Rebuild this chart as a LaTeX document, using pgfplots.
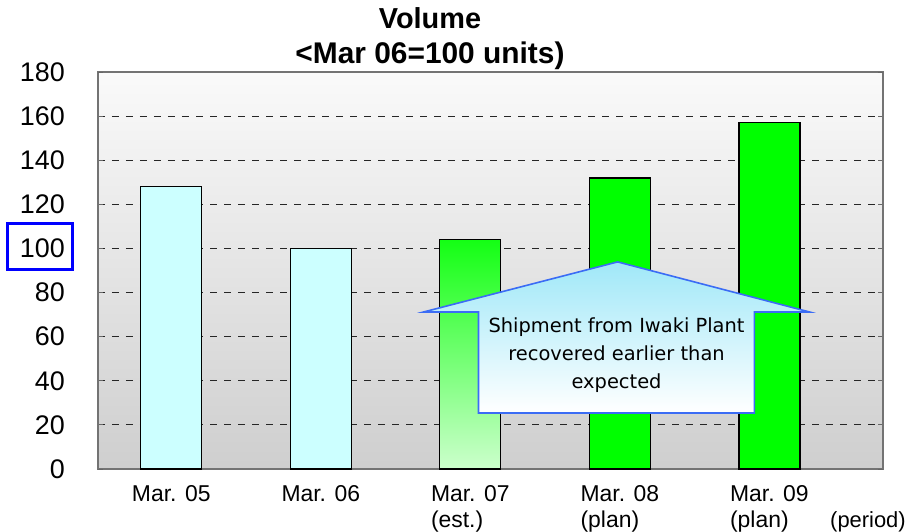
\documentclass[border=0pt]{standalone}
\usepackage{pgfplots}
\pgfplotsset{compat=1.18}
\usepackage{fontspec}
\setmainfont{Liberation Sans}
\newfontfamily\calloutfont{DejaVu Sans}
\definecolor{lcyan}{RGB}{204,255,255}
\definecolor{vgreen}{RGB}{0,255,0}
\definecolor{gtop}{RGB}{20,255,20}
\definecolor{gbot}{RGB}{204,255,204}
\definecolor{cline}{RGB}{59,108,245}
\definecolor{ctop}{RGB}{160,232,248}
\begin{document}
\begin{tikzpicture}
\begin{axis}[
  at={(0,0)}, anchor=south west,
  scale only axis, width=785bp, height=397bp,
  xmin=-0.49, xmax=4.76, ymin=0, ymax=180,
  axis line style={draw=black!55, line width=1.2bp},
  axis background/.style={top color=black!2, bottom color=black!19},
  ytick={20,40,...,160},
  extra y ticks={0,180}, extra y tick style={grid=none},
  ymajorgrids,
  grid style={black!85, dash pattern=on 7bp off 7bp, line width=0.9bp},
  tick align=inside, major tick length=5bp,
  y tick style={black!60, line width=0.9bp},
  xtick={0,1,2,3,4},
  xticklabels={{Mar. 05},{Mar. 06},{Mar. 07\\(est.)},{Mar. 08\\(plan)},{Mar. 09\\(plan)}},
  x tick style={draw=none},
  /pgf/number format/assume math mode=true,
  yticklabel style={font=\fontsize{27}{30}\selectfont, anchor=east, inner sep=0pt, xshift=-33bp},
  xticklabel style={font=\fontsize{23}{26}\selectfont, align=left, anchor=north, inner sep=0pt, yshift=-16bp},
]
\addplot[ybar, bar width=61bp, bar shift=0pt, fill=lcyan, draw=black, line width=1.3bp] coordinates {(0,128) (1,100)};
\addplot[ybar, bar width=61bp, bar shift=0pt, top color=gtop, bottom color=gbot, draw=black, line width=1.3bp] coordinates {(2,104)};
\addplot[ybar, bar width=61bp, bar shift=0pt, fill=vgreen, draw=black, line width=1.3bp] coordinates {(3,132) (4,157)};
\draw[cline, line width=1.6bp, top color=ctop, bottom color=white]
  (axis cs:2.985,93.9) -- (axis cs:4.268,71.2) -- (axis cs:3.90,71.2) -- (axis cs:3.90,25.4)
  -- (axis cs:2.055,25.4) -- (axis cs:2.055,71.2) -- (axis cs:1.688,71.2) -- cycle;
\node[font=\calloutfont\fontsize{19.5}{28}\selectfont, align=center, text=black] at (axis cs:2.978,51.8)
  {Shipment from Iwaki Plant\\recovered earlier than\\expected};
\end{axis}
\node[font=\bfseries\fontsize{29}{35}\selectfont, anchor=base] at (332bp,440bp) {Volume};
\node[font=\bfseries\fontsize{30}{35}\selectfont, anchor=base] at (332bp,405bp) {<Mar 06=100 units)};
\node[font=\fontsize{22}{26}\selectfont, anchor=base west, inner sep=0pt] at (732bp,-58.5bp) {(period)};
\draw[blue, line width=3bp] (-90bp,199bp) rectangle (-25bp,245bp);
\pgfresetboundingbox
\path (-98bp,-63bp) rectangle (811bp,469bp);
\end{tikzpicture}
\end{document}
